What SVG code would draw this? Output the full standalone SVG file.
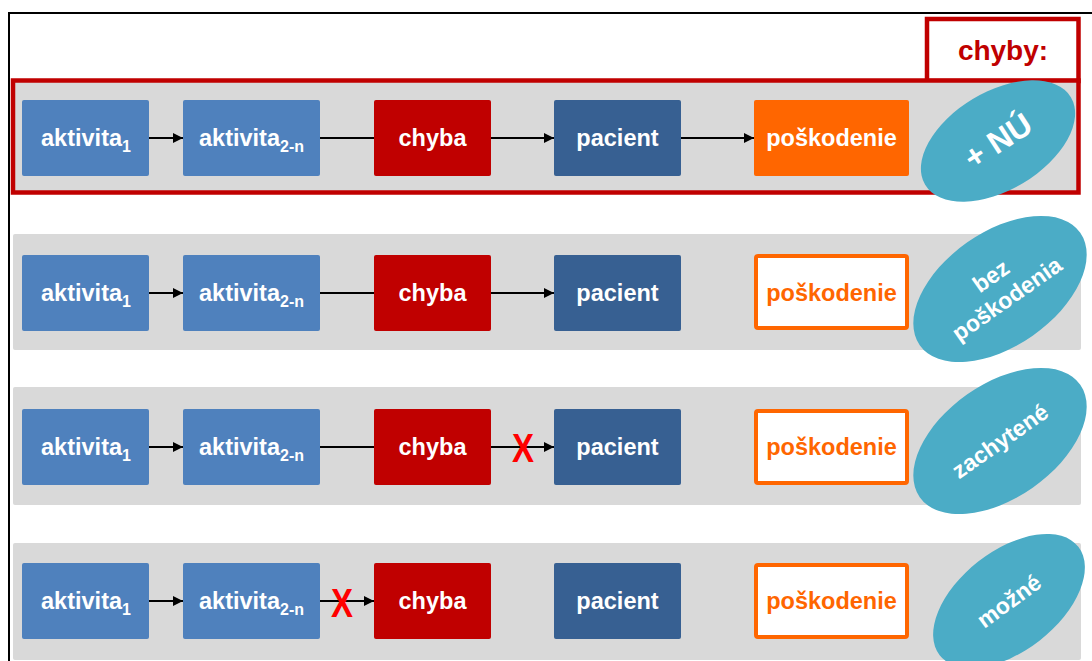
<svg xmlns="http://www.w3.org/2000/svg" width="1092" height="661" viewBox="0 0 1092 661">
<defs>
<marker id="ah" markerUnits="userSpaceOnUse" markerWidth="11" markerHeight="11" refX="10" refY="5" orient="auto">
<path d="M0,0 L10,5 L0,10 z" fill="#000"/>
</marker>
<style>
.band{fill:#D9D9D9}
.act{fill:#4F81BD}
.err{fill:#C00000}
.pac{fill:#376092}
.harm{fill:#FF6600}
.harmo{fill:#FFFFFF;stroke:#FF6600;stroke-width:4}
.t{font-family:"Liberation Sans",Arial,sans-serif;font-weight:bold;font-size:23.5px;fill:#FFFFFF;text-anchor:middle}
.to{fill:#FF6600}
.sub{font-size:16px}
.ell{fill:#4BACC6}
.et{font-family:"Liberation Sans",Arial,sans-serif;font-weight:bold;font-size:23px;fill:#FFFFFF;text-anchor:middle}
.x{font-family:"Liberation Sans",Arial,sans-serif;font-weight:bold;font-size:40px;fill:#FF0000;text-anchor:middle}
.c{stroke:#000;stroke-width:2;fill:none}
.ca{stroke:#000;stroke-width:2;fill:none;marker-end:url(#ah)}
</style>
</defs>
<rect x="0" y="0" width="1092" height="661" fill="#FFFFFF"/>
<rect id="frame" x="9" y="13" width="1100" height="700" fill="none" stroke="#000" stroke-width="2"/>

<g id="legend">
<rect x="927" y="19" width="151.5" height="62" fill="#FFFFFF" stroke="#C00000" stroke-width="4.5"/>
<text x="1003" y="60" font-family="Liberation Sans,Arial,sans-serif" font-weight="bold" font-size="28" fill="#C00000" text-anchor="middle">chyby:</text>
</g>

<g id="bands">
<rect x="13" y="80.5" width="1065.5" height="112" class="band" stroke="#C00000" stroke-width="4.5"/>
<rect x="13" y="234" width="1068" height="116" rx="2" class="band"/>
<rect x="13" y="387" width="1068" height="118" rx="2" class="band"/>
<rect x="13" y="543" width="1068" height="117" rx="2" class="band"/>
</g>

<g id="connectors">
<line x1="148" y1="138" x2="183" y2="138" class="ca"/>
<line x1="319" y1="138" x2="374" y2="138" class="c"/>
<line x1="490" y1="138" x2="554" y2="138" class="ca"/>
<line x1="680" y1="138" x2="754" y2="138" class="ca"/>

<line x1="148" y1="293" x2="183" y2="293" class="ca"/>
<line x1="319" y1="293" x2="374" y2="293" class="c"/>
<line x1="490" y1="293" x2="554" y2="293" class="ca"/>

<line x1="148" y1="447" x2="183" y2="447" class="ca"/>
<line x1="319" y1="447" x2="374" y2="447" class="c"/>
<line x1="490" y1="447" x2="554" y2="447" class="ca"/>

<line x1="148" y1="601" x2="183" y2="601" class="ca"/>
<line x1="319" y1="601" x2="374" y2="601" class="ca"/>
</g>

<g id="row1">
<g id="r1-a1"><rect x="22" y="100" width="127" height="76" rx="2" class="act"/><text x="86" y="146" class="t">aktivita<tspan class="sub" dy="6">1</tspan></text></g>
<g id="r1-a2"><rect x="183" y="100" width="137" height="76" rx="2" class="act"/><text x="251.5" y="146" class="t">aktivita<tspan class="sub" dy="6">2-n</tspan></text></g>
<g id="r1-chyba"><rect x="374" y="100" width="117" height="76" rx="2" class="err"/><text x="432.5" y="146" class="t">chyba</text></g>
<g id="r1-pacient"><rect x="554" y="100" width="127" height="76" rx="2" class="pac"/><text x="617.5" y="146" class="t">pacient</text></g>
<g id="r1-poskodenie"><rect x="754" y="100" width="155" height="76" rx="2" class="harm"/><text x="831.5" y="146" class="t">poškodenie</text></g>
<g id="r1-label"><ellipse cx="998" cy="141" rx="85" ry="49" transform="rotate(-31 998 141)" class="ell"/><text x="998" y="152" class="et" style="font-size:32px" transform="rotate(-33 998 141)">+ NÚ</text></g>
</g>

<g id="row2">
<g id="r2-a1"><rect x="22" y="255" width="127" height="76" rx="2" class="act"/><text x="86" y="301" class="t">aktivita<tspan class="sub" dy="6">1</tspan></text></g>
<g id="r2-a2"><rect x="183" y="255" width="137" height="76" rx="2" class="act"/><text x="251.5" y="301" class="t">aktivita<tspan class="sub" dy="6">2-n</tspan></text></g>
<g id="r2-chyba"><rect x="374" y="255" width="117" height="76" rx="2" class="err"/><text x="432.5" y="301" class="t">chyba</text></g>
<g id="r2-pacient"><rect x="554" y="255" width="127" height="76" rx="2" class="pac"/><text x="617.5" y="301" class="t">pacient</text></g>
<g id="r2-poskodenie"><rect x="756" y="256" width="151" height="72" rx="2" class="harmo"/><text x="831.5" y="301" class="t to">poškodenie</text></g>
<g id="r2-label"><ellipse cx="1000" cy="289" rx="98" ry="57" transform="rotate(-35 1000 289)" class="ell"/><text class="et" transform="rotate(-35 1000 289)"><tspan x="1000" y="281">bez</tspan><tspan x="1000" y="309">poškodenia</tspan></text></g>
</g>

<g id="row3">
<g id="r3-a1"><rect x="22" y="409" width="127" height="76" rx="2" class="act"/><text x="86" y="455" class="t">aktivita<tspan class="sub" dy="6">1</tspan></text></g>
<g id="r3-a2"><rect x="183" y="409" width="137" height="76" rx="2" class="act"/><text x="251.5" y="455" class="t">aktivita<tspan class="sub" dy="6">2-n</tspan></text></g>
<g id="r3-chyba"><rect x="374" y="409" width="117" height="76" rx="2" class="err"/><text x="432.5" y="455" class="t">chyba</text></g>
<g id="r3-pacient"><rect x="554" y="409" width="127" height="76" rx="2" class="pac"/><text x="617.5" y="455" class="t">pacient</text></g>
<g id="r3-poskodenie"><rect x="756" y="411" width="151" height="72" rx="2" class="harmo"/><text x="831.5" y="455" class="t to">poškodenie</text></g>
<g id="r3-x"><text x="523" y="462" class="x" textLength="22" lengthAdjust="spacingAndGlyphs">X</text></g>
<g id="r3-label"><ellipse cx="1000" cy="441" rx="98" ry="57" transform="rotate(-35 1000 441)" class="ell"/><text x="1000" y="449" class="et" transform="rotate(-35 1000 441)">zachytené</text></g>
</g>

<g id="row4">
<g id="r4-a1"><rect x="22" y="563" width="127" height="76" rx="2" class="act"/><text x="86" y="609" class="t">aktivita<tspan class="sub" dy="6">1</tspan></text></g>
<g id="r4-a2"><rect x="183" y="563" width="137" height="76" rx="2" class="act"/><text x="251.5" y="609" class="t">aktivita<tspan class="sub" dy="6">2-n</tspan></text></g>
<g id="r4-chyba"><rect x="374" y="563" width="117" height="76" rx="2" class="err"/><text x="432.5" y="609" class="t">chyba</text></g>
<g id="r4-pacient"><rect x="554" y="563" width="127" height="76" rx="2" class="pac"/><text x="617.5" y="609" class="t">pacient</text></g>
<g id="r4-poskodenie"><rect x="756" y="565" width="151" height="72" rx="2" class="harmo"/><text x="831.5" y="609" class="t to">poškodenie</text></g>
<g id="r4-x"><text x="342" y="617" class="x" textLength="22" lengthAdjust="spacingAndGlyphs">X</text></g>
<g id="r4-label"><ellipse cx="1009" cy="601" rx="88" ry="50" transform="rotate(-38 1009 601)" class="ell"/><text x="1009" y="609" class="et" transform="rotate(-36 1009 601)">možné</text></g>
</g>
</svg>
